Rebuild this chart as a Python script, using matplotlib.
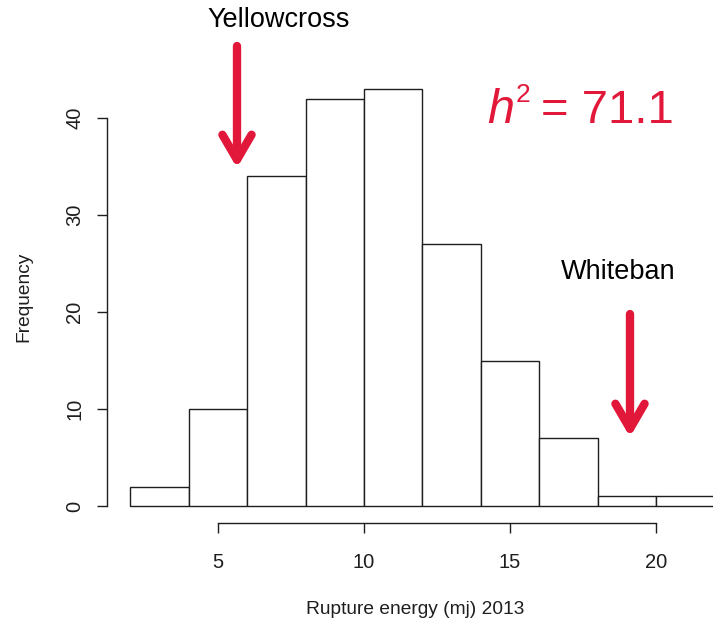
import numpy as np
import matplotlib as mpl
import matplotlib.pyplot as plt

mpl.rc('font', family='Liberation Sans')

# histogram of rupture energy, 2 mj bins
bin_edges = [2, 4, 6, 8, 10, 12, 14, 16, 18, 20, 22]
counts = [2, 10, 34, 42, 43, 27, 15, 7, 1, 1]
xticks = [5, 10, 15, 20]
yticks = [0, 10, 20, 30, 40]

red = '#e2183a'
ink = '#1e1e1e'

W, H = 713, 625
fig = plt.figure(figsize=(W / 100, H / 100), dpi=100)

def fx(px):
    return px / W

def fy(py):
    return 1 - py / H

# plot region in pixels (R style: 4% padding around the data range)
x0, x1 = 1.2, 22.8
y0, y1 = -1.72, 44.72
left_px, right_px = 107, 737.7
bot_px, top_px = 522.7, 72.2
ax = fig.add_axes([fx(left_px), fy(bot_px),
                   (right_px - left_px) / W, (bot_px - top_px) / H])
ax.set_xlim(x0, x1)
ax.set_ylim(y0, y1)

ax.bar(bin_edges[:-1], counts, width=np.diff(bin_edges), align='edge',
       facecolor='white', edgecolor=ink, linewidth=1.0)

for s in ['top', 'right']:
    ax.spines[s].set_visible(False)
ax.spines['left'].set_bounds(yticks[0], yticks[-1])
ax.spines['bottom'].set_bounds(xticks[0], xticks[-1])
for s in ['left', 'bottom']:
    ax.spines[s].set_linewidth(1.0)
    ax.spines[s].set_color(ink)

ax.set_xticks(xticks)
ax.set_yticks(yticks)
ax.tick_params(axis='both', length=7.5, width=1.0, color=ink,
               labelsize=14.5, labelcolor=ink)
ax.tick_params(axis='x', pad=14)
ax.tick_params(axis='y', pad=9)
for lbl in ax.get_yticklabels():
    lbl.set_rotation(90)
    lbl.set_va('center')

fig.text(fx(24), fy(297), 'Frequency', rotation=90, ha='center',
         va='center', fontsize=13.8, color=ink)
fig.text(fx(415), fy(610), 'Rupture energy (mj) 2013', ha='center',
         va='center', fontsize=13.8, color=ink)

# annotations
fig.text(fx(279), fy(20), 'Yellowcross', ha='center', va='center',
         fontsize=19.5, color='black')
fig.text(fx(618), fy(272), 'Whiteban', ha='center', va='center',
         fontsize=19.5, color='black')

fig.text(fx(487), fy(123), 'h', style='italic', ha='left', va='baseline',
         fontsize=35, color=red)
fig.text(fx(516), fy(102), '2', ha='left', va='baseline',
         fontsize=19, color=red)
fig.text(fx(541), fy(123), '= 71.1', ha='left', va='baseline',
         fontsize=34, color=red)

arrow = dict(arrowstyle='->,head_length=1.8,head_width=1.05', lw=6,
             color=red, capstyle='round', joinstyle='round',
             shrinkA=0, shrinkB=0)
ax.annotate('', xy=(fx(237), fy(168)), xytext=(fx(237), fy(46)),
            xycoords='figure fraction', textcoords='figure fraction',
            arrowprops=arrow)
ax.annotate('', xy=(fx(630), fy(437)), xytext=(fx(630), fy(314)),
            xycoords='figure fraction', textcoords='figure fraction',
            arrowprops=arrow)

fig.savefig('out.png', dpi=100)
